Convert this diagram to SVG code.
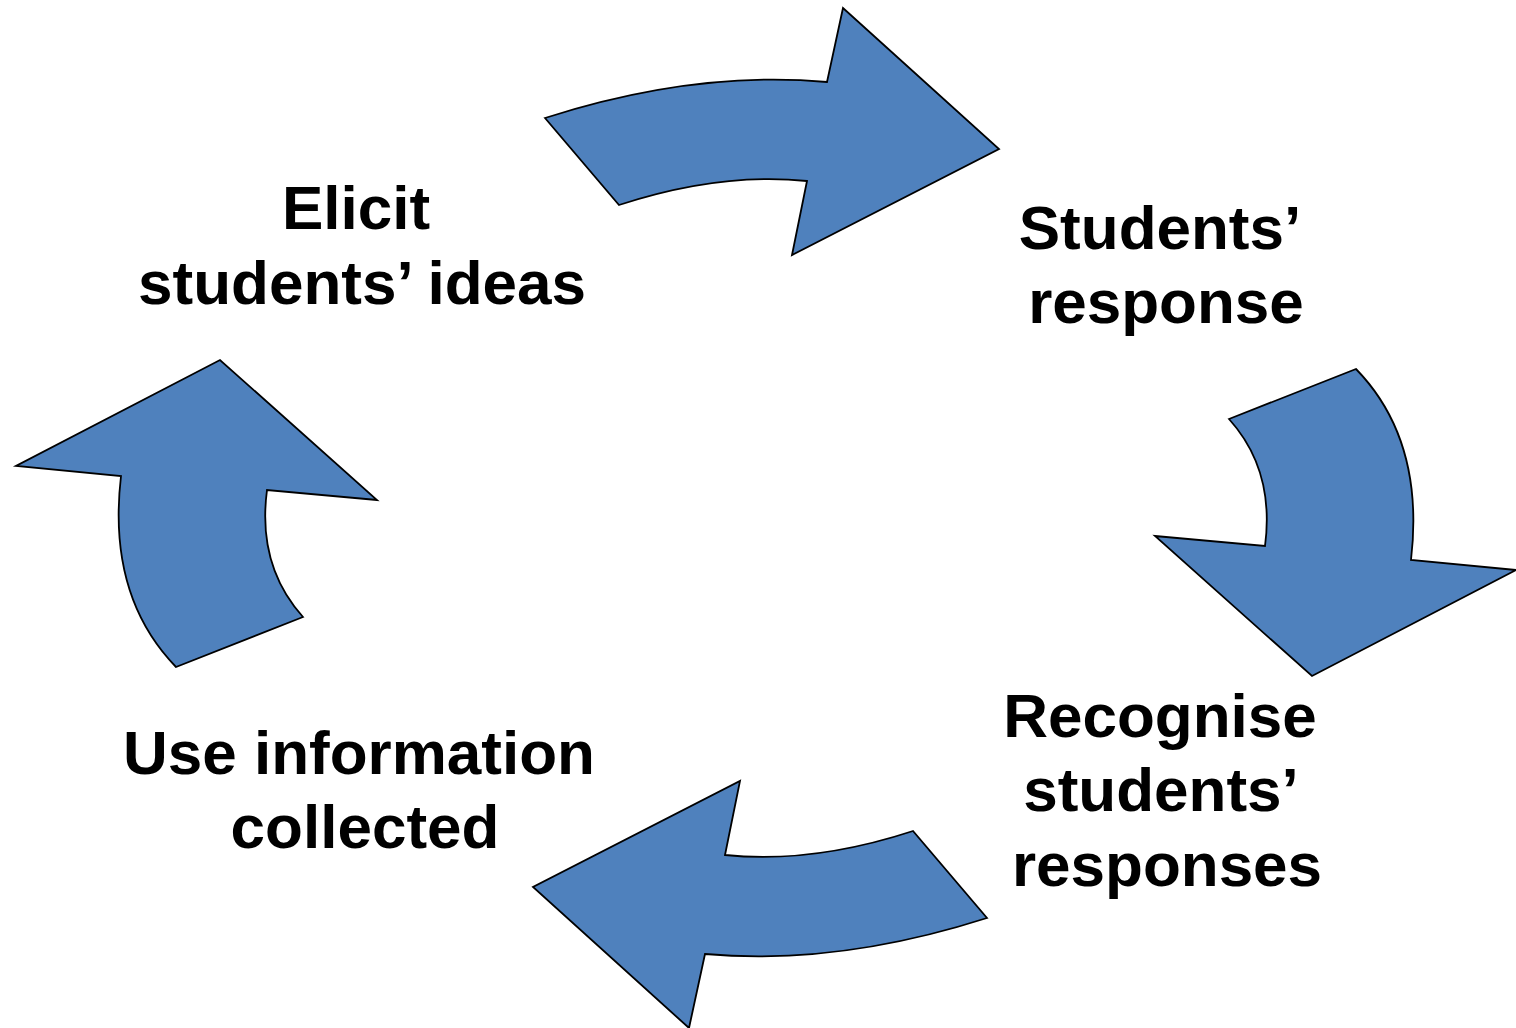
<svg xmlns="http://www.w3.org/2000/svg" width="1516" height="1028" viewBox="0 0 1516 1028">
<style>
.arr{fill:#4F81BD;stroke:#000;stroke-width:1.8;stroke-linejoin:miter}
.lbl{font-family:"Liberation Sans",Arial,sans-serif;font-weight:bold;font-size:62px;fill:#000;text-anchor:middle}
</style>
<rect width="1516" height="1028" fill="#fff"/>
<g id="connectors">
<path id="arrow-top" class="arr" d="M545,118 Q695,70 827,82 L843,8 L999,149 L792,255 L807,181 Q720,172 619,205 Z"/>
<path id="arrow-right" class="arr" d="M1229,419 L1356,369 Q1425,440 1411,560 L1516,570 L1312,676 L1155,536 L1265,546 Q1275,470 1229,419 Z"/>
<path id="arrow-bottom" class="arr" transform="rotate(180 766 518)" d="M545,118 Q695,70 827,82 L843,8 L999,149 L792,255 L807,181 Q720,172 619,205 Z"/>
<path id="arrow-left" class="arr" transform="rotate(180 766 518)" d="M1229,419 L1356,369 Q1425,440 1411,560 L1516,570 L1312,676 L1155,536 L1265,546 Q1275,470 1229,419 Z"/>
</g>
<g id="node-elicit">
<text class="lbl" x="356" y="229">Elicit</text>
<text class="lbl" x="362" y="304">students’ ideas</text>
</g>
<g id="node-response">
<text class="lbl" x="1160" y="249">Students’</text>
<text class="lbl" x="1166" y="323">response</text>
</g>
<g id="node-recognise">
<text class="lbl" x="1160" y="737">Recognise</text>
<text class="lbl" x="1161" y="811">students’</text>
<text class="lbl" x="1167" y="886">responses</text>
</g>
<g id="node-use">
<text class="lbl" x="359" y="774">Use information</text>
<text class="lbl" x="365" y="848">collected</text>
</g>
</svg>
